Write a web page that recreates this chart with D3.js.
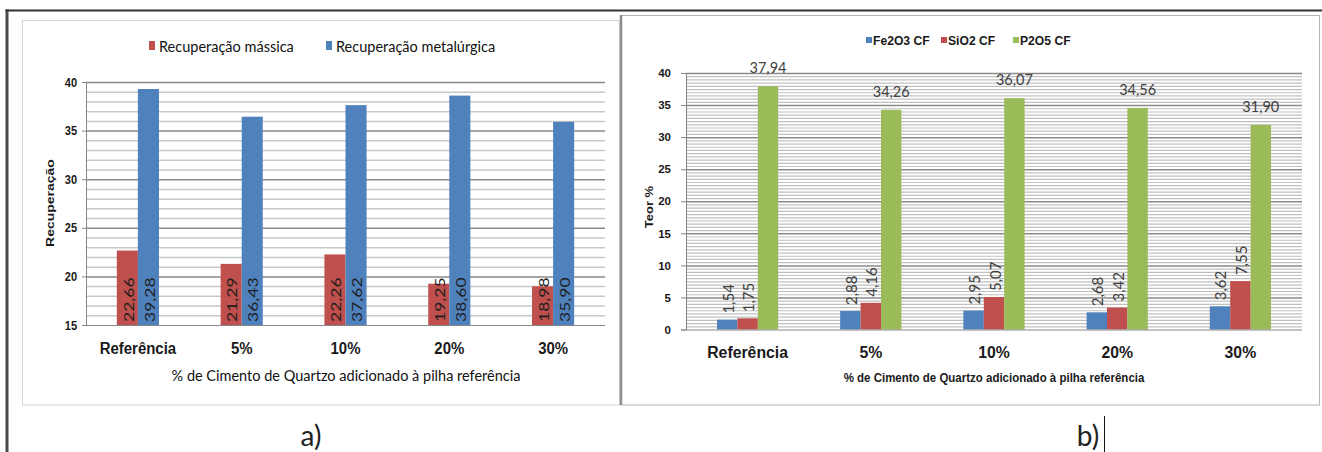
<!DOCTYPE html>
<html>
<head>
<meta charset="utf-8">
<script src="https://cdn.jsdelivr.net/npm/d3@7"></script>
<style>
  html, body { margin: 0; padding: 0; background: #fff; }
  svg { display: block; }
</style>
</head>
<body>
<svg id="chart" width="1322" height="452"></svg>
<script>
// ---- data ----
const categories = ["Referência", "5%", "10%", "20%", "30%"];
const seriesA = ["Recuperação mássica", "Recuperação metalúrgica"];
const recMassica = [22.66, 21.29, 22.26, 19.25, 18.98];
const recMetalurgica = [39.28, 36.43, 37.62, 38.60, 35.90];
const ticksA = [15, 20, 25, 30, 35, 40];

const seriesB = ["Fe2O3 CF", "SiO2 CF", "P2O5 CF"];
const fe2o3 = [1.54, 2.88, 2.95, 2.68, 3.62];
const sio2 = [1.75, 4.16, 5.07, 3.42, 7.55];
const p2o5 = [37.94, 34.26, 36.07, 34.56, 31.90];
const ticksB = [0, 5, 10, 15, 20, 25, 30, 35, 40];

const xTitle = "% de Cimento de Quartzo adicionado à pilha referência";
const yTitleA = "Recuperação";
const yTitleB = "Teor %";

// ---- setup ----
const W = 1322, H = 452;
const svg = d3.select("#chart");
const ptBR = d3.formatLocale({ decimal: ",", thousands: ".", grouping: [3], currency: ["", ""] });
const fmt = ptBR.format(".2f");

const RED = "#C0504D", BLUE = "#4F81BD", GREEN = "#9BBB59";
const ARIAL = "'Liberation Sans', Arial, sans-serif";
const SOFT = "Lato, 'Open Sans', sans-serif";

// ---- page frames ----
svg.append("line").attr("x1", 7).attr("x2", 7).attr("y1", 9.5).attr("y2", H)
  .attr("stroke", "#4a4a4a").attr("stroke-width", 3);
svg.append("line").attr("x1", 5.5).attr("x2", W).attr("y1", 10.5).attr("y2", 10.5)
  .attr("stroke", "#333").attr("stroke-width", 2);
svg.append("rect").attr("x", 22.5).attr("y", 20.5).attr("width", 597).attr("height", 384.5)
  .attr("fill", "none").attr("stroke", "#d6d6d6");
svg.append("rect").attr("x", 621.5).attr("y", 15.5).attr("width", 698).attr("height", 389.5)
  .attr("fill", "none").attr("stroke", "#b5b5b5");
svg.append("line").attr("x1", 621).attr("x2", 621).attr("y1", 15).attr("y2", 405)
  .attr("stroke", "#8d8d8d").attr("stroke-width", 2.5);

// small helper for horizontally compressed text
function label(g, x, y, str, o) {
  const t = g.append("text")
    .attr("transform", `translate(${x},${y}) rotate(${o.rot || 0}) scale(${o.sx || 1},${o.sy || 1})`)
    .attr("font-family", o.font || ARIAL)
    .attr("font-size", o.size)
    .attr("font-weight", o.weight || "normal")
    .attr("text-anchor", o.anchor || "middle")
    .attr("dominant-baseline", o.baseline || "auto")
    .attr("fill", o.fill || "#1a1a1a")
    .text(str);
  return t;
}

// =========================================================
// Chart a) recovery
// =========================================================
const gA = svg.append("g");
const xA = d3.scaleBand().domain(categories).range([86, 605]).paddingInner(0.594).paddingOuter(0.297);
const xAi = d3.scaleBand().domain(seriesA).range([0, xA.bandwidth()]);
const yA = d3.scaleLinear().domain([15, 40]).range([325, 82]);
const plotWA = 605 - 86;

// minor and major gridlines
gA.append("g").attr("transform", "translate(86,0)")
  .call(d3.axisLeft(yA).tickValues(d3.range(15, 40.001, 1).filter(v => v % 5 !== 0)).tickSize(-plotWA).tickFormat(""))
  .call(g => g.select(".domain").remove())
  .call(g => g.selectAll("line").attr("stroke", "#c8c8c8").attr("stroke-width", 1.5));
gA.append("g").attr("transform", "translate(86,0)")
  .call(d3.axisLeft(yA).tickValues(ticksA.filter(v => v !== 15)).tickSize(-plotWA).tickFormat(""))
  .call(g => g.select(".domain").remove())
  .call(g => g.selectAll("line").attr("stroke", "#8a8a8a").attr("stroke-width", 1.5));

// bars
const rowsA = categories.map((c, i) => ({ cat: c, items: [
  { s: seriesA[0], v: recMassica[i], color: RED },
  { s: seriesA[1], v: recMetalurgica[i], color: BLUE }
]}));
const grpA = gA.selectAll("g.grp").data(rowsA).join("g").attr("class", "grp")
  .attr("transform", d => `translate(${xA(d.cat)},0)`);
grpA.selectAll("rect").data(d => d.items).join("rect")
  .attr("x", d => xAi(d.s)).attr("width", xAi.bandwidth())
  .attr("y", d => yA(d.v)).attr("height", d => yA(15) - yA(d.v))
  .attr("fill", d => d.color);
// value labels, rotated, inside base
grpA.each(function (d) {
  const g = d3.select(this);
  d.items.forEach(it => {
    label(g, xAi(it.s) + xAi.bandwidth() / 2 + 0.5, yA(15) - 3, fmt(it.v),
      { rot: -90, sy: 0.8, size: 17.5, font: SOFT, anchor: "start", baseline: "central", fill: "#1e1e1e" });
  });
});

// axes
gA.append("g").attr("transform", "translate(86,0)")
  .call(d3.axisLeft(yA).tickValues(ticksA).tickSize(4).tickPadding(6.5))
  .call(g => g.select(".domain").attr("stroke", "#858585"))
  .call(g => g.selectAll(".tick line").attr("stroke", "#858585"))
  .call(g => g.selectAll("text").attr("font-family", ARIAL).attr("font-weight", "bold")
    .attr("font-size", 13).attr("fill", "#1a1a1a").attr("transform", "scale(0.85,1)"));
gA.append("g").attr("transform", "translate(0,325)")
  .call(d3.axisBottom(xA).tickSize(0))
  .call(g => g.select(".domain").attr("stroke", "#858585").attr("d", `M86,0.5H605`))
  .call(g => g.selectAll("text").attr("y", 23).attr("dy", "0.35em").attr("font-family", ARIAL)
    .attr("font-weight", "bold").attr("font-size", 17).attr("fill", "#1a1a1a").attr("transform", "scale(0.88,1)"));

// titles
label(gA, 346, 375, xTitle, { size: 14.5, font: SOFT, baseline: "central", fill: "#111" });
label(gA, 50, 203, yTitleA, { rot: -90, sy: 0.8, size: 14, weight: "bold", baseline: "central" });

// legend
const legA = gA.append("g");
[[149, 159, RED, seriesA[0]], [326, 336, BLUE, seriesA[1]]].forEach(([mx, tx, col, name]) => {
  legA.append("rect").attr("x", mx).attr("y", 41).attr("width", 6).attr("height", 9).attr("fill", col);
  label(legA, tx, 46, name, { size: 14.5, font: SOFT, anchor: "start", baseline: "central", fill: "#111" });
});

// =========================================================
// Chart b) grades
// =========================================================
const gB = svg.append("g");
const xB = d3.scaleBand().domain(categories).range([686, 1302]).paddingInner(0.503).paddingOuter(0.2515);
const xBi = d3.scaleBand().domain(seriesB).range([0, xB.bandwidth()]);
const yB = d3.scaleLinear().domain([0, 40]).range([329.5, 73]);
const plotWB = 1302 - 686;

gB.append("g").attr("transform", "translate(686,0)")
  .call(d3.axisLeft(yB).tickValues(d3.range(0.5, 40.001, 0.5).filter(v => v % 5 !== 0)).tickSize(-plotWB).tickFormat(""))
  .call(g => g.select(".domain").remove())
  .call(g => g.selectAll("line").attr("stroke", "#c0c0c0").attr("stroke-width", 1.2));
gB.append("g").attr("transform", "translate(686,0)")
  .call(d3.axisLeft(yB).tickValues(ticksB.filter(v => v !== 0)).tickSize(-plotWB).tickFormat(""))
  .call(g => g.select(".domain").remove())
  .call(g => g.selectAll("line").attr("stroke", "#8a8a8a").attr("stroke-width", 1.5));

const rowsB = categories.map((c, i) => ({ cat: c, items: [
  { s: seriesB[0], v: fe2o3[i], color: BLUE },
  { s: seriesB[1], v: sio2[i], color: RED },
  { s: seriesB[2], v: p2o5[i], color: GREEN }
]}));
const grpB = gB.selectAll("g.grp").data(rowsB).join("g").attr("class", "grp")
  .attr("transform", d => `translate(${xB(d.cat)},0)`);
grpB.selectAll("rect").data(d => d.items).join("rect")
  .attr("x", d => xBi(d.s)).attr("width", xBi.bandwidth())
  .attr("y", d => yB(d.v)).attr("height", d => yB(0) - yB(d.v))
  .attr("fill", d => d.color);
grpB.each(function (d) {
  const g = d3.select(this);
  d.items.forEach(it => {
    const cx = xBi(it.s) + xBi.bandwidth() / 2;
    if (it.s === seriesB[2]) {
      label(g, cx, yB(it.v) - 13, fmt(it.v), { size: 14.5, font: SOFT, fill: "#404040" });
    } else {
      label(g, cx + 0.5, yB(it.v) - 6, fmt(it.v),
        { rot: -90, size: 15, font: SOFT, anchor: "start", baseline: "central", fill: "#404040" });
    }
  });
});

gB.append("g").attr("transform", "translate(686,0)")
  .call(d3.axisLeft(yB).tickValues(ticksB).tickSize(5).tickPadding(10))
  .call(g => g.select(".domain").attr("stroke", "#858585"))
  .call(g => g.selectAll(".tick line").attr("stroke", "#858585"))
  .call(g => g.selectAll("text").attr("font-family", ARIAL).attr("font-weight", "bold")
    .attr("font-size", 11.5).attr("fill", "#1a1a1a"));
gB.append("g").attr("transform", "translate(0,329.5)")
  .call(d3.axisBottom(xB).tickSize(0))
  .call(g => g.select(".domain").attr("stroke", "#858585").attr("d", `M686,0.5H1302`))
  .call(g => g.selectAll("text").attr("y", 23).attr("dy", "0.35em").attr("font-family", ARIAL)
    .attr("font-weight", "bold").attr("font-size", 17).attr("fill", "#1a1a1a").attr("transform", "scale(0.93,1)"));

label(gB, 994, 378, xTitle, { size: 12.5, weight: "bold", baseline: "central", sx: 0.92 });
label(gB, 649, 207, yTitleB, { rot: -90, sy: 0.85, size: 13, weight: "bold", baseline: "central" });

const legB = gB.append("g");
[[866, 873, BLUE, seriesB[0]], [941, 948, RED, seriesB[1]], [1013, 1020, GREEN, seriesB[2]]].forEach(([mx, tx, col, name]) => {
  legB.append("rect").attr("x", mx).attr("y", 37).attr("width", 6).attr("height", 6).attr("fill", col);
  label(legB, tx, 40.5, name, { size: 13.5, weight: "bold", anchor: "start", baseline: "central", sx: 0.9 });
});

// =========================================================
// captions
// =========================================================
label(svg, 311, 446, "a)", { size: 28, font: SOFT, fill: "#222" });
label(svg, 1088, 446, "b)", { size: 28, font: SOFT, fill: "#222" });
svg.append("line").attr("x1", 1104.5).attr("x2", 1104.5).attr("y1", 416).attr("y2", 452)
  .attr("stroke", "#111").attr("stroke-width", 1);
</script>
</body>
</html>
